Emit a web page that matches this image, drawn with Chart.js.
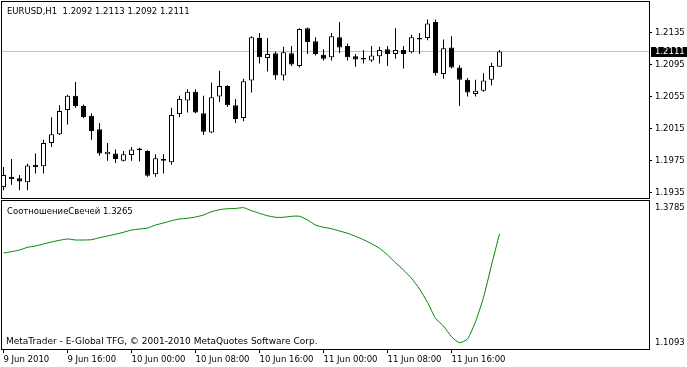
<!DOCTYPE html>
<html><head><meta charset="utf-8">
<script src="https://cdn.jsdelivr.net/npm/chart.js@4/dist/chart.umd.min.js"></script>
<style>
html,body{margin:0;padding:0;background:#fff;overflow:hidden}
#wrap{position:relative;width:687px;height:367px;background:#fff}
canvas{position:absolute;left:0}
#c1{top:0}
#c2{top:199px}
</style></head><body>
<div id="wrap"><canvas id="c1" width="687" height="199"></canvas><canvas id="c2" width="687" height="168"></canvas></div>
<script>
// ---- data ----
const symbolTitle = "EURUSD,H1";
const indicatorName = "СоотношениеСвечей";
const copyrightText = "MetaTrader - E-Global TFG, © 2001-2010 MetaQuotes Software Corp.";
const tickIndices = [0, 8, 16, 24, 32, 40, 48, 56];
const tickLabels = ["9 Jun 2010", "9 Jun 16:00", "10 Jun 00:00", "10 Jun 08:00", "10 Jun 16:00", "11 Jun 00:00", "11 Jun 08:00", "11 Jun 16:00"];
const priceTicks = [1.1935, 1.1975, 1.2015, 1.2055, 1.2095, 1.2135];
const indicatorTicks = [1.1093, 1.3785];

const openPrices = [1.1942,1.1955,1.1953,1.1948,1.1970,1.1968,1.1997,1.2008,1.2038,1.2056,1.2043,1.2031,1.2014,1.1983,1.1984,1.1975,1.1982,1.1990,1.1987,1.1958,1.1977,1.1973,1.2033,1.2050,1.2061,1.2034,1.2010,1.2055,1.2068,1.2044,1.2028,1.2075,1.2128,1.2103,1.2109,1.2081,1.2109,1.2093,1.2140,1.2124,1.2107,1.2104,1.2129,1.2118,1.2105,1.2103,1.2100,1.2105,1.2114,1.2108,1.2113,1.2110,1.2128,1.2128,1.2148,1.2083,1.2116,1.2091,1.2076,1.2058,1.2062,1.2076,1.2092];
const highPrices = [1.1967,1.1977,1.1957,1.1971,1.1984,1.2001,1.2029,1.2044,1.2057,1.2073,1.2045,1.2034,1.2022,1.1997,1.1989,1.1987,1.1992,1.1991,1.1988,1.1983,1.1983,1.2041,1.2056,1.2064,1.2064,1.2056,1.2072,1.2087,1.2069,1.2052,1.2077,1.2130,1.2134,1.2128,1.2111,1.2117,1.2118,1.2140,1.2141,1.2129,1.2114,1.2134,1.2148,1.2121,1.2108,1.2113,1.2118,1.2117,1.2118,1.2140,1.2118,1.2132,1.2134,1.2151,1.2151,1.2126,1.2130,1.2094,1.2078,1.2076,1.2084,1.2097,1.2113];
const lowPrices = [1.1938,1.1945,1.1938,1.1938,1.1959,1.1959,1.1992,1.2007,1.2020,1.2041,1.2028,1.2001,1.1981,1.1975,1.1972,1.1974,1.1975,1.1974,1.1955,1.1955,1.1959,1.1970,1.2029,1.2035,1.2034,1.2007,1.2009,1.2048,1.2042,1.2022,1.2024,1.2060,1.2096,1.2086,1.2076,1.2075,1.2093,1.2091,1.2108,1.2106,1.2100,1.2100,1.2109,1.2100,1.2092,1.2096,1.2098,1.2096,1.2093,1.2102,1.2090,1.2109,1.2108,1.2125,1.2081,1.2077,1.2090,1.2043,1.2055,1.2055,1.2061,1.2069,1.2092];
const closePrices = [1.1957,1.1952,1.1949,1.1969,1.1967,1.1997,1.2008,1.2037,1.2056,1.2043,1.2029,1.2012,1.1984,1.1986,1.1977,1.1983,1.1989,1.1988,1.1956,1.1978,1.1975,1.2032,1.2052,1.2061,1.2035,1.2011,1.2054,1.2068,1.2044,1.2027,1.2074,1.2129,1.2104,1.2108,1.2081,1.2110,1.2095,1.2139,1.2123,1.2108,1.2102,1.2130,1.2116,1.2104,1.2101,1.2101,1.2106,1.2113,1.2108,1.2113,1.2108,1.2129,1.2126,1.2146,1.2084,1.2115,1.2091,1.2076,1.2060,1.2062,1.2075,1.2093,1.2111];
const indicatorValues = [1.2882,1.2908,1.2941,1.2995,1.3021,1.3061,1.3101,1.3135,1.3161,1.3141,1.3141,1.3147,1.3187,1.3221,1.3255,1.3295,1.3340,1.3360,1.3380,1.3440,1.3480,1.3526,1.3560,1.3574,1.3600,1.3639,1.3705,1.3745,1.3765,1.3770,1.3785,1.3725,1.3673,1.3625,1.3594,1.3594,1.3614,1.3614,1.3540,1.3440,1.3394,1.3366,1.3320,1.3275,1.3215,1.3147,1.3067,1.2975,1.2842,1.2688,1.2543,1.2377,1.2164,1.1899,1.1580,1.1426,1.1213,1.1093,1.1167,1.1512,1.1995,1.2640,1.3265];

// ---- view ----
const FONT = "'DejaVu Sans',sans-serif";
const FS = 8.5;
const X_MIN = -0.1875, X_MAX = 80.6875;
const Y_MIN = 1.19284, Y_MAX = 1.21728;
const IY_MIN = 1.09674, IY_MAX = 1.39186;
const n = closePrices.length;
const last = n - 1;

const wickData = highPrices.map((h, i) => ({x: i, y: [lowPrices[i], h]}));
const bodyData = openPrices.map((o, i) => ({x: i, y: [Math.min(o, closePrices[i]), Math.max(o, closePrices[i])]}));
const bodyColors = openPrices.map((o, i) => closePrices[i] >= o ? '#ffffff' : '#000000');

function hideYPadding(s){ s.paddingTop = 0; s.paddingBottom = 0; }

const mainDecor = {
  id: 'mainDecor',
  beforeDatasetsDraw(chart) {
    const ctx = chart.ctx, a = chart.chartArea;
    const yy = Math.floor(chart.scales.y.getPixelForValue(closePrices[last])) + 0.5;
    ctx.save();
    ctx.strokeStyle = '#c0c0c0'; ctx.lineWidth = 1;
    ctx.beginPath(); ctx.moveTo(a.left, yy); ctx.lineTo(a.right, yy); ctx.stroke();
    ctx.restore();
  },
  afterDraw(chart) {
    const ctx = chart.ctx, a = chart.chartArea;
    ctx.save();
    ctx.strokeStyle = '#000'; ctx.lineWidth = 1;
    ctx.strokeRect(1.5, 1.5, a.right - 1, a.bottom - 1);
    ctx.font = FS + 'px ' + FONT;
    ctx.fillStyle = '#000';
    ctx.textBaseline = 'alphabetic';
    ctx.textAlign = 'left';
    const hdr = symbolTitle + '  ' + [openPrices[last], highPrices[last], lowPrices[last], closePrices[last]].map(v => v.toFixed(4)).join(' ');
    ctx.fillText(hdr, 7, 14);
    const y = Math.floor(chart.scales.y.getPixelForValue(closePrices[last]));
    ctx.fillStyle = '#000';
    ctx.fillRect(651, y - 4, 36, 10);
    ctx.fillStyle = '#fff';
    ctx.textBaseline = 'middle';
    ctx.fillText(closePrices[last].toFixed(4), 655, y + 1);
    ctx.restore();
  }
};

const indDecor = {
  id: 'indDecor',
  afterDraw(chart) {
    const ctx = chart.ctx, a = chart.chartArea;
    ctx.save();
    ctx.strokeStyle = '#000'; ctx.lineWidth = 1;
    ctx.strokeRect(1.5, 1.5, a.right - 1, a.bottom - 1);
    ctx.font = FS + 'px ' + FONT;
    ctx.fillStyle = '#000';
    ctx.textBaseline = 'alphabetic';
    ctx.textAlign = 'left';
    ctx.fillText(indicatorName + ' ' + indicatorValues[last].toFixed(4), 7, 15);
    ctx.font = '9px ' + FONT;
    ctx.fillText(copyrightText, 6, 145);
    ctx.restore();
  }
};

Chart.defaults.font.family = FONT;
Chart.defaults.font.size = FS;
Chart.defaults.color = '#000';

new Chart(document.getElementById('c1'), {
  type: 'bar',
  data: {
    datasets: [
      {data: bodyData, grouped: false, order: 1, backgroundColor: bodyColors, borderColor: '#000', borderWidth: 1, borderSkipped: false, maxBarThickness: 5},
      {data: wickData, grouped: false, order: 2, backgroundColor: '#000', borderWidth: 0, maxBarThickness: 1}
    ]
  },
  options: {
    responsive: false, animation: false, events: [],
    layout: {padding: {left: 2, top: 2, right: 0, bottom: 1}},
    plugins: {legend: {display: false}, tooltip: {enabled: false}},
    scales: {
      x: {type: 'linear', display: false, min: X_MIN, max: X_MAX, offset: false},
      y: {
        type: 'linear', position: 'right', min: Y_MIN, max: Y_MAX,
        afterBuildTicks(s) { s.ticks = priceTicks.map(v => ({value: v})); },
        afterFit(s) { s.width = 38; hideYPadding(s); },
        ticks: {padding: 3, color: '#000', font: {family: FONT, size: FS}, callback: v => Number(v).toFixed(4)},
        grid: {drawOnChartArea: false, drawTicks: true, tickLength: 3, color: '#000'},
        border: {display: false}
      }
    }
  },
  plugins: [mainDecor]
});

new Chart(document.getElementById('c2'), {
  type: 'line',
  data: {
    datasets: [{data: indicatorValues.map((v, i) => ({x: i, y: v})), borderColor: '#008000', borderWidth: 1, pointRadius: 0, tension: 0.2, fill: false}]
  },
  options: {
    responsive: false, animation: false, events: [],
    layout: {padding: {left: 2, top: 2, right: 0, bottom: 0}},
    plugins: {legend: {display: false}, tooltip: {enabled: false}},
    scales: {
      x: {
        type: 'linear', min: X_MIN, max: X_MAX, position: 'bottom',
        afterBuildTicks(s) { s.ticks = tickIndices.map(v => ({value: v})); },
        afterFit(s) { s.height = 18; s.paddingLeft = 0; s.paddingRight = 0; },
        ticks: {autoSkip: false, maxRotation: 0, minRotation: 0, align: 'start', padding: 2, color: '#000', font: {family: FONT, size: FS}, callback: (v, i) => tickLabels[i]},
        grid: {drawOnChartArea: false, drawTicks: true, tickLength: 4, color: '#000', offset: false},
        border: {display: false}
      },
      y: {
        type: 'linear', position: 'right', min: IY_MIN, max: IY_MAX,
        afterBuildTicks(s) { s.ticks = indicatorTicks.map(v => ({value: v})); },
        afterFit(s) { s.width = 38; hideYPadding(s); },
        ticks: {padding: 3, color: '#000', font: {family: FONT, size: FS}, callback: v => Number(v).toFixed(4)},
        grid: {drawOnChartArea: false, drawTicks: true, tickLength: 3, color: 'rgba(0,0,0,0)'},
        border: {display: false}
      }
    }
  },
  plugins: [indDecor]
});
</script>
</body></html>
